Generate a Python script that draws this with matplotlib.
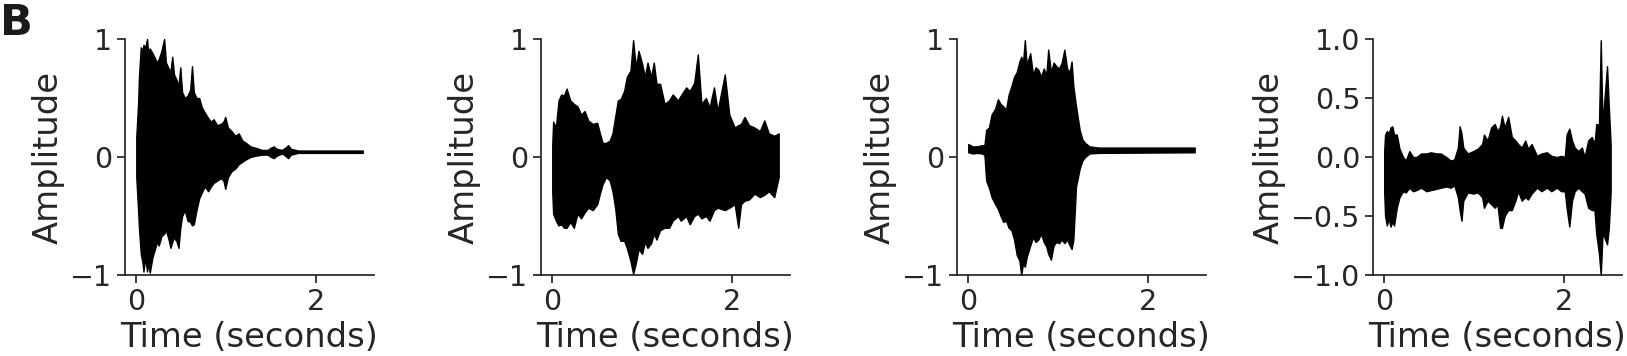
import matplotlib
matplotlib.use("Agg")
import matplotlib.pyplot as plt

# ---- data: waveform envelopes (time s, upper, lower) ----
t1 = [0.00, 0.02, 0.03, 0.05, 0.07, 0.08, 0.10, 0.12, 0.13, 0.15, 0.18, 0.20, 0.23, 0.25,
      0.28, 0.31, 0.33, 0.36, 0.38, 0.40, 0.42, 0.45, 0.47, 0.49, 0.51, 0.54, 0.57, 0.60,
      0.62, 0.64, 0.67, 0.70, 0.73, 0.76, 0.80, 0.83, 0.86, 0.90, 0.94, 0.97, 0.99, 1.02,
      1.06, 1.10, 1.14, 1.18, 1.22, 1.27, 1.32, 1.40, 1.46, 1.50, 1.53, 1.56, 1.62, 1.66,
      1.69, 1.72, 1.80, 2.52]
up1 = [0.17, 0.45, 0.68, 0.93, 0.90, 0.95, 0.93, 1.00, 0.90, 0.92, 0.88, 0.85, 0.80, 0.83,
       0.90, 1.00, 0.80, 0.75, 0.72, 0.85, 0.70, 0.65, 0.60, 0.76, 0.55, 0.50, 0.52, 0.57,
       0.77, 0.55, 0.50, 0.50, 0.42, 0.38, 0.33, 0.30, 0.32, 0.27, 0.28, 0.30, 0.34, 0.25,
       0.22, 0.18, 0.20, 0.14, 0.12, 0.09, 0.08, 0.06, 0.06, 0.08, 0.09, 0.07, 0.06, 0.08,
       0.10, 0.07, 0.055, 0.055]
lo1 = [-0.17, -0.45, -0.60, -0.82, -0.90, -0.97, -0.85, -0.97, -0.90, -0.98, -0.85, -0.80,
       -0.72, -0.75, -0.67, -0.65, -0.62, -0.70, -0.77, -0.72, -0.68, -0.72, -0.77, -0.60,
       -0.50, -0.45, -0.54, -0.55, -0.58, -0.57, -0.45, -0.35, -0.30, -0.25, -0.29, -0.25,
       -0.22, -0.20, -0.18, -0.20, -0.27, -0.17, -0.12, -0.10, -0.06, -0.04, -0.02, 0.00,
       0.01, 0.02, 0.02, 0.00, -0.01, 0.01, 0.03, 0.01, -0.01, 0.02, 0.035, 0.035]

t2 = [0.00, 0.01, 0.04, 0.07, 0.10, 0.13, 0.16, 0.20, 0.24, 0.28, 0.32, 0.36, 0.40, 0.45,
      0.50, 0.53, 0.56, 0.60, 0.64, 0.67, 0.70, 0.73, 0.76, 0.80, 0.83, 0.87, 0.90, 0.93,
      0.96, 1.00, 1.03, 1.06, 1.10, 1.13, 1.16, 1.20, 1.25, 1.30, 1.34, 1.40, 1.43, 1.49,
      1.53, 1.58, 1.62, 1.66, 1.71, 1.75, 1.80, 1.84, 1.92, 1.97, 2.03, 2.07, 2.10, 2.14,
      2.19, 2.25, 2.31, 2.36, 2.41, 2.47, 2.52]
up2 = [0.10, 0.30, 0.25, 0.48, 0.53, 0.52, 0.58, 0.48, 0.45, 0.43, 0.36, 0.39, 0.31, 0.28,
       0.29, 0.20, 0.12, 0.12, 0.14, 0.20, 0.34, 0.48, 0.49, 0.56, 0.68, 0.73, 0.99, 0.76,
       0.90, 0.79, 0.68, 0.80, 0.68, 0.80, 0.62, 0.62, 0.45, 0.48, 0.53, 0.48, 0.52, 0.59,
       0.56, 0.63, 0.87, 0.45, 0.50, 0.42, 0.59, 0.39, 0.70, 0.36, 0.25, 0.27, 0.28, 0.34,
       0.27, 0.25, 0.22, 0.31, 0.20, 0.18, 0.20]
lo2 = [-0.30, -0.48, -0.54, -0.58, -0.57, -0.60, -0.60, -0.55, -0.60, -0.48, -0.52, -0.47,
       -0.43, -0.45, -0.40, -0.31, -0.23, -0.17, -0.20, -0.29, -0.43, -0.65, -0.71, -0.71,
       -0.77, -0.88, -0.99, -0.90, -0.78, -0.82, -0.72, -0.77, -0.73, -0.65, -0.70, -0.62,
       -0.60, -0.60, -0.54, -0.50, -0.54, -0.50, -0.57, -0.50, -0.48, -0.52, -0.50, -0.54,
       -0.45, -0.43, -0.45, -0.43, -0.40, -0.60, -0.40, -0.37, -0.36, -0.31, -0.34, -0.32,
       -0.29, -0.34, -0.17]

t3 = [0.00, 0.05, 0.10, 0.15, 0.18, 0.20, 0.23, 0.26, 0.30, 0.33, 0.36, 0.39, 0.42, 0.45,
      0.48, 0.51, 0.54, 0.57, 0.59, 0.61, 0.63, 0.65, 0.69, 0.72, 0.75, 0.78, 0.81, 0.84,
      0.87, 0.89, 0.92, 0.95, 0.98, 1.01, 1.04, 1.07, 1.10, 1.13, 1.15, 1.17, 1.20, 1.24,
      1.27, 1.30, 1.35, 1.45, 2.52]
up3 = [0.11, 0.09, 0.09, 0.10, 0.10, 0.23, 0.25, 0.36, 0.41, 0.49, 0.45, 0.43, 0.40, 0.53,
       0.60, 0.68, 0.72, 0.81, 0.85, 0.80, 0.99, 0.78, 0.88, 0.70, 0.76, 0.74, 0.68, 0.75,
       0.70, 0.91, 0.72, 0.80, 0.77, 0.75, 0.80, 0.91, 0.75, 0.72, 0.81, 0.60, 0.43, 0.23,
       0.15, 0.12, 0.09, 0.08, 0.08]
lo3 = [0.04, 0.03, 0.035, 0.03, 0.02, -0.20, -0.26, -0.34, -0.40, -0.44, -0.50, -0.55,
       -0.54, -0.60, -0.62, -0.70, -0.83, -0.88, -1.00, -0.90, -0.93, -0.85, -0.75, -0.68,
       -0.72, -0.70, -0.65, -0.72, -0.76, -0.82, -0.87, -0.75, -0.72, -0.73, -0.70, -0.73,
       -0.70, -0.75, -0.78, -0.70, -0.25, -0.10, -0.03, 0.00, 0.03, 0.035, 0.04]

t4 = [0.00, 0.01, 0.03, 0.05, 0.07, 0.09, 0.11, 0.14, 0.17, 0.21, 0.24, 0.28, 0.32, 0.36,
      0.41, 0.47, 0.52, 0.58, 0.63, 0.69, 0.74, 0.78, 0.82, 0.84, 0.86, 0.88, 0.93, 0.99,
      1.04, 1.09, 1.11, 1.15, 1.19, 1.23, 1.26, 1.29, 1.31, 1.34, 1.38, 1.42, 1.46, 1.49,
      1.53, 1.57, 1.60, 1.64, 1.70, 1.75, 1.81, 1.86, 1.92, 1.97, 2.01, 2.03, 2.06, 2.09,
      2.12, 2.16, 2.20, 2.23, 2.27, 2.31, 2.34, 2.36, 2.39, 2.41, 2.43, 2.45, 2.48, 2.50,
      2.52]
up4 = [0.05, 0.19, 0.22, 0.20, 0.25, 0.26, 0.19, 0.19, 0.07, 0.00, -0.03, 0.05, 0.00, 0.00,
       0.03, 0.03, 0.04, 0.03, 0.03, 0.00, -0.03, -0.02, 0.08, 0.26, 0.20, 0.08, 0.03, 0.05,
       0.07, 0.11, 0.19, 0.14, 0.25, 0.28, 0.22, 0.26, 0.35, 0.25, 0.34, 0.17, 0.14, 0.11,
       0.08, 0.14, 0.07, 0.11, 0.01, 0.03, 0.04, 0.01, 0.00, 0.01, 0.00, 0.19, 0.24, 0.14,
       0.08, 0.05, 0.08, 0.00, 0.14, 0.17, 0.11, 0.28, 0.27, 0.99, 0.27, 0.48, 0.77, 0.42,
       0.11]
lo4 = [-0.30, -0.50, -0.58, -0.52, -0.59, -0.55, -0.58, -0.43, -0.34, -0.29, -0.30, -0.26,
       -0.29, -0.28, -0.26, -0.29, -0.28, -0.27, -0.26, -0.25, -0.26, -0.24, -0.34, -0.45,
       -0.54, -0.37, -0.30, -0.31, -0.30, -0.34, -0.43, -0.37, -0.40, -0.43, -0.40, -0.60,
       -0.60, -0.50, -0.45, -0.45, -0.37, -0.29, -0.37, -0.34, -0.36, -0.31, -0.26, -0.29,
       -0.26, -0.29, -0.26, -0.29, -0.29, -0.43, -0.59, -0.37, -0.29, -0.26, -0.29, -0.31,
       -0.43, -0.45, -0.45, -0.65, -0.82, -1.00, -0.65, -0.68, -0.74, -0.60, -0.30]

panels = [(t1, up1, lo1), (t2, up2, lo2), (t3, up3, lo3), (t4, up4, lo4)]
xticks = [0, 2]
yticks_int = [-1, 0, 1]
yticks_dec = [-1.0, -0.5, 0.0, 0.5, 1.0]

dark = "#262626"
plt.rcParams.update({
    "font.family": "DejaVu Sans",
    "axes.edgecolor": dark,
    "axes.linewidth": 1.25,
    "xtick.color": dark,
    "ytick.color": dark,
    "xtick.labelcolor": dark,
    "ytick.labelcolor": dark,
    "axes.labelcolor": dark,
    "text.color": dark,
    "xtick.major.size": 5.5,
    "ytick.major.size": 5.5,
    "xtick.major.width": 1.25,
    "ytick.major.width": 1.25,
    "xtick.labelsize": 20.5,
    "ytick.labelsize": 20.5,
    "axes.labelsize": 24.3,
})

fig, axes = plt.subplots(1, 4, figsize=(16.27, 3.56), dpi=100)
fig.subplots_adjust(left=0.0768, right=0.9969, bottom=0.2275, top=0.8904, wspace=0.67)

for i, (ax, (t, up, lo)) in enumerate(zip(axes, panels)):
    ax.fill_between(t, lo, up, facecolor="black", edgecolor="black", linewidth=1.0)
    ax.set_ylim(-1, 1)
    ax.set_xticks(xticks)
    if i < 3:
        ax.set_yticks(yticks_int)
        ax.set_yticklabels(["\u22121", "0", "1"])
    else:
        ax.set_yticks(yticks_dec)
    ax.set_xlabel("Time (seconds)")
    ax.set_ylabel("Amplitude")
    ax.spines["top"].set_visible(False)
    ax.spines["right"].set_visible(False)

fig.text(0.0, 0.995, "B", fontsize=31, fontweight="bold", color="#1a1a1a",
         ha="left", va="top")

fig.savefig("out.png", dpi=100)
